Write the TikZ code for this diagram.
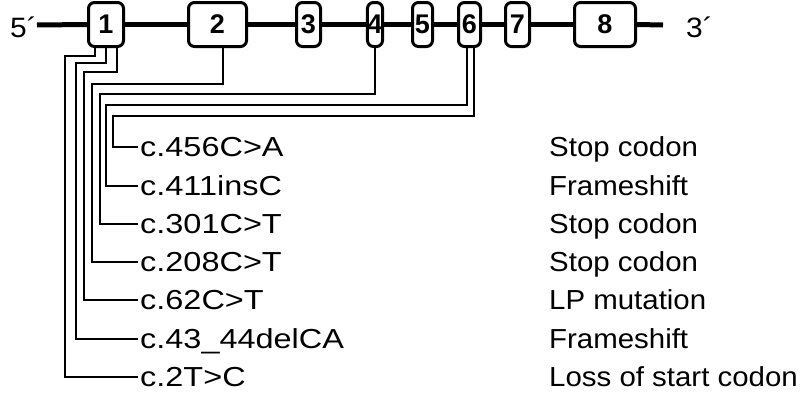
\documentclass[tikz,border=0pt]{standalone}
\usepackage{fontspec}
\setmainfont{Liberation Sans}[FakeStretch=1.07]
\newfontfamily\lblfont{Liberation Sans}[FakeStretch=1.18]
\newfontfamily\exfont{Liberation Sans}
\begin{document}
\begin{tikzpicture}[x=1pt,y=-1pt,
  exon/.style={draw, line width=3pt, rounded corners=6pt, fill=white, inner sep=0pt,
    minimum height=44pt, font=\exfont\fontsize{27}{27}\selectfont\bfseries},
  backbone/.style={line width=5pt},
  conn/.style={line width=2pt},
  mut/.style={anchor=west, inner xsep=2pt, inner ysep=0pt, text height=19.5pt, text depth=0pt,
    font=\lblfont\fontsize{27.5}{28}\selectfont},
  eff/.style={anchor=west, inner sep=0pt, text height=19.5pt, text depth=0pt,
    font=\fontsize{27.5}{28}\selectfont},
  endlbl/.style={anchor=west, inner sep=0pt, text height=20pt, text depth=0pt,
    font=\fontsize{28}{28}\selectfont}]
\useasboundingbox (0,0) rectangle (804,394);

% ends
\node[endlbl] (p5) at (10,27) {5´};
\node[endlbl] (p3) at (686,27) {3´};
\coordinate (bbL) at (37,25);
\coordinate (bbR) at (663,25);

% exons
\node[exon, minimum width=35pt] (e1) at (106,24.5) {1};
\node[exon, minimum width=58pt] (e2) at (217.5,24.5) {2};
\node[exon, minimum width=24pt] (e3) at (308.5,24.5) {3};
\node[exon, minimum width=13pt] (e4) at (375,24.5) {4};
\node[exon, minimum width=20pt] (e5) at (422.5,24.5) {5};
\node[exon, minimum width=22pt] (e6) at (469.5,24.5) {6};
\node[exon, minimum width=24pt] (e7) at (517.5,24.5) {7};
\node[exon, minimum width=61pt] (e8) at (605,24.5) {8};

\draw[backbone] (bbL) -- (e1.west);
\draw[backbone] (e1.east) -- (e2.west);
\draw[backbone] (e2.east) -- (e3.west);
\draw[backbone] (e3.east) -- (e4.west);
\draw[backbone] (e4.east) -- (e5.west);
\draw[backbone] (e5.east) -- (e6.west);
\draw[backbone] (e6.east) -- (e7.west);
\draw[backbone] (e7.east) -- (e8.west);
\draw[backbone] (e8.east) -- (bbR);

% mutation labels
\node[mut] (m1) at (138,147) {c.456C>A};
\node[mut] (m2) at (138,186) {c.411insC};
\node[mut] (m3) at (138,224) {c.301C>T};
\node[mut] (m4) at (138,262) {c.208C>T};
\node[mut] (m5) at (138,300) {c.62C>T};
\node[mut] (m6) at (138,339) {c.43\_44delCA};
\node[mut] (m7) at (138,377) {c.2T>C};

% effect labels
\node[eff] (r1) at (549,147) {Stop codon};
\node[eff] (r2) at (549,186) {Frameshift};
\node[eff] (r3) at (549,224) {Stop codon};
\node[eff] (r4) at (549,262) {Stop codon};
\node[eff] (r5) at (549,300) {LP mutation};
\node[eff] (r6) at (549,339) {Frameshift};
\node[eff] (r7) at (549,377) {Loss of start codon};

% connectors
\draw[conn] ([xshift=4pt]e6.south) |- (113,116) |- (m1.west);
\draw[conn] ([xshift=-3pt]e6.south) |- (106,105) |- (m2.west);
\draw[conn] (e4.south) |- (100,94) |- (m3.west);
\draw[conn] ([xshift=5.5pt]e2.south) |- (92,84) |- (m4.west);
\draw[conn] ([xshift=11pt]e1.south) |- (84,72) |- (m5.west);
\draw[conn] ([xshift=0pt]e1.south) |- (76,63) |- (m6.west);
\draw[conn] ([xshift=-11pt]e1.south) |- (65,56) |- (m7.west);
\end{tikzpicture}
\end{document}
